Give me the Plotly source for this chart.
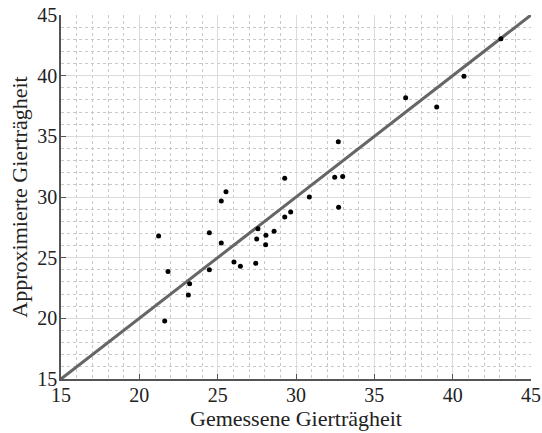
import plotly.graph_objects as go

measured = [21.23, 21.83, 21.62, 23.21, 23.13, 24.47, 24.47, 25.23, 25.23, 25.53,
            26.04, 26.45, 27.43, 27.49, 27.57, 28.06, 28.08, 28.60, 29.28, 29.28,
            29.66, 30.85, 32.47, 32.98, 32.72, 32.70, 37.00, 38.98, 40.72, 43.08]
approx = [26.79, 23.87, 19.78, 22.86, 21.92, 27.06, 24.01, 26.21, 29.67, 30.44,
          24.64, 24.29, 24.53, 26.54, 27.39, 26.07, 26.84, 27.17, 28.35, 31.54,
          28.76, 30.00, 31.62, 31.68, 29.15, 34.56, 38.19, 37.42, 39.95, 43.05]
ref_line = [15, 45]
tick_vals = [15, 20, 25, 30, 35, 40, 45]

font_family = "Liberation Serif, DejaVu Serif, serif"

fig = go.Figure()
fig.add_trace(go.Scatter(x=ref_line, y=ref_line, mode="lines",
                         line=dict(color="#666666", width=3), hoverinfo="skip",
                         showlegend=False))
fig.add_trace(go.Scatter(x=measured, y=approx, mode="markers",
                         marker=dict(color="black", size=5), showlegend=False))

axis_common = dict(
    range=[15, 45], tickvals=tick_vals, ticktext=[str(v) for v in tick_vals],
    showgrid=True, gridcolor="#dcdcdc", gridwidth=1,
    minor=dict(dtick=1, showgrid=True, gridcolor="#c8c8c8", griddash="dot", gridwidth=1),
    showline=True, linecolor="#555555", linewidth=1.5,
    ticks="inside", ticklen=5, tickcolor="#555555", tickwidth=1.2,
    zeroline=False, automargin=False,
    tickfont=dict(family=font_family, size=20, color="#222222"),
    title_font=dict(family=font_family, size=22, color="#222222"),
)

fig.update_layout(
    width=542, height=433,
    margin=dict(l=61, r=11, t=15, b=54),
    paper_bgcolor="white", plot_bgcolor="white",
    xaxis=dict(axis_common, ticklabelstandoff=-3,
               title=dict(text="Gemessene Gierträgheit", standoff=0)),
    yaxis=dict(axis_common, ticklabelstandoff=-2,
               title=dict(text="Approximierte Gierträgheit", standoff=4)),
)

fig.write_html("out.html", config={"displayModeBar": False},
               post_script="document.body.style.margin='0';document.body.style.overflow='hidden';")
